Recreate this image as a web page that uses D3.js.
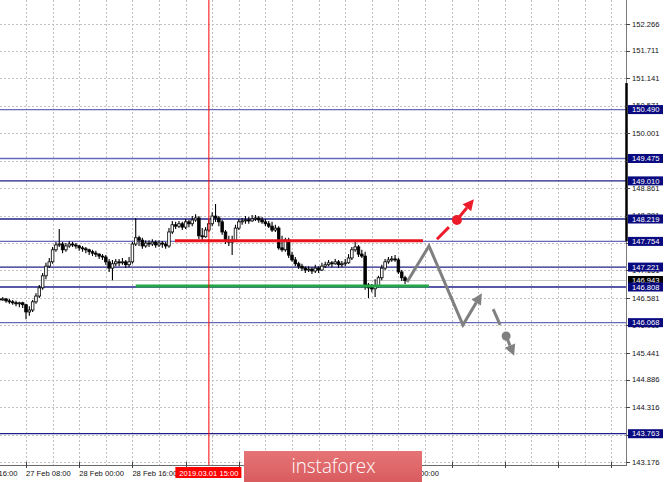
<!DOCTYPE html>
<html><head><meta charset="utf-8">
<script src="https://cdn.jsdelivr.net/npm/d3@7"></script>
<style>html,body{margin:0;padding:0;background:#fff;overflow:hidden}svg{display:block}</style>
</head><body><svg id="c" width="665" height="482"></svg>
<script>
// ---------- DATA ----------
const firstBar = -8; // bar index of first candle (0 = 27 Feb 08:00, H1 bars)
const open = [146.56,146.54,146.56,146.52,146.50,146.48,146.46,146.48,
146.44,146.29,146.33,146.50,146.62,146.79,147.04,147.24,147.33,147.58,
147.68,147.70,147.58,147.66,147.70,147.68,147.66,147.62,147.60,147.58,
147.54,147.51,147.49,147.45,147.43,147.33,147.20,147.29,147.33,147.31,
147.33,147.27,147.33,147.70,147.83,147.78,147.66,147.72,147.70,147.74,
147.68,147.72,147.70,147.66,147.95,148.10,148.07,148.12,148.05,148.16,
148.12,148.20,148.24,147.87,147.85,147.99,148.12,148.28,148.24,148.16,
147.95,147.78,147.74,147.78,148.03,148.16,148.18,148.20,148.18,148.22,
148.24,148.20,148.16,148.12,148.07,147.99,148.03,147.62,147.58,147.78,
147.47,147.37,147.29,147.24,147.20,147.16,147.18,147.14,147.20,147.16,
147.24,147.27,147.31,147.29,147.33,147.27,147.29,147.31,147.41,147.58,
147.64,147.49,147.45,146.85,146.79,146.77,146.83,147.00,147.20,147.33,
147.37,147.39,147.37,147.12,147.00];
const high = [146.60,146.60,146.58,146.56,146.54,146.52,146.50,146.50,
146.46,146.41,146.54,146.68,146.85,147.10,147.31,147.41,147.64,147.74,
148.01,147.74,147.72,147.76,147.74,147.72,147.68,147.66,147.64,147.60,
147.58,147.56,147.51,147.49,147.47,147.39,147.37,147.39,147.39,147.41,
147.37,147.43,147.74,148.24,147.87,147.83,147.78,147.78,147.80,147.78,
147.78,147.76,147.74,148.03,148.18,148.16,148.18,148.16,148.22,148.20,
148.28,148.32,148.28,148.03,148.05,148.20,148.36,148.53,148.28,148.20,
147.99,147.87,147.87,148.10,148.22,148.24,148.28,148.26,148.30,148.30,
148.28,148.26,148.22,148.18,148.16,148.10,148.07,147.87,147.83,147.83,
147.54,147.43,147.33,147.29,147.24,147.24,147.22,147.27,147.24,147.31,
147.33,147.37,147.35,147.39,147.37,147.35,147.39,147.49,147.64,147.74,
147.68,147.58,147.54,146.89,146.87,146.97,147.04,147.27,147.39,147.43,
147.45,147.47,147.41,147.16,147.04];
const low = [146.50,146.52,146.48,146.46,146.44,146.41,146.39,146.37,
146.14,146.21,146.29,146.46,146.58,146.75,146.97,147.20,147.29,147.54,
147.64,147.51,147.54,147.62,147.64,147.60,147.56,147.54,147.51,147.47,
147.45,147.43,147.39,147.37,147.27,147.12,146.95,147.24,147.24,147.27,
147.20,147.22,147.29,147.66,147.66,147.60,147.62,147.64,147.66,147.62,
147.64,147.62,147.60,147.62,147.91,148.01,148.03,147.99,148.01,148.05,
148.07,148.16,147.80,147.78,147.83,147.95,148.07,148.16,148.07,147.89,
147.70,147.66,147.47,147.74,147.99,148.10,148.12,148.12,148.16,148.18,
148.14,148.12,148.07,148.03,147.95,147.95,147.58,147.54,147.54,147.41,
147.33,147.24,147.18,147.14,147.10,147.12,147.08,147.10,147.10,147.14,
147.20,147.24,147.22,147.27,147.20,147.22,147.24,147.29,147.37,147.54,
147.43,147.41,146.75,146.58,146.70,146.60,146.79,146.95,147.16,147.29,
147.33,147.33,147.08,146.93,146.87];
const close = [146.54,146.56,146.52,146.50,146.48,146.46,146.48,146.44,
146.29,146.33,146.50,146.62,146.79,147.04,147.24,147.33,147.58,147.68,
147.70,147.58,147.66,147.70,147.68,147.66,147.62,147.60,147.58,147.54,
147.51,147.49,147.45,147.43,147.33,147.20,147.29,147.33,147.31,147.33,
147.27,147.33,147.70,147.83,147.78,147.66,147.72,147.70,147.74,147.68,
147.72,147.70,147.66,147.95,148.10,148.07,148.12,148.05,148.16,148.12,
148.20,148.24,147.87,147.85,147.99,148.12,148.28,148.24,148.16,147.95,
147.78,147.74,147.78,148.03,148.16,148.18,148.20,148.18,148.22,148.24,
148.20,148.16,148.12,148.07,147.99,148.03,147.62,147.58,147.78,147.47,
147.37,147.29,147.24,147.20,147.16,147.18,147.14,147.20,147.16,147.24,
147.27,147.31,147.29,147.33,147.27,147.29,147.31,147.41,147.58,147.64,
147.49,147.45,146.85,146.79,146.77,146.83,147.00,147.20,147.33,147.37,
147.39,147.37,147.12,147.00,146.94];

const priceTicks = ["152.266","151.711","151.141","150.571","150.001","149.431","148.861","148.291",
  "147.721","147.151","146.581","146.011","145.441","144.886","144.316","143.746","143.176"];
const timeLabels = ["26 Feb 16:00","27 Feb 08:00","28 Feb 00:00","28 Feb 16:00","6 Mar 00:00"];
const timeLabelBars = [-16,0,16,32,112];
const levels = [150.490,149.475,149.010,148.219,147.754,147.221,146.808,146.068,143.763];
const levelText = ["150.490","149.475","149.010","148.219","147.754","147.221","146.808","146.068","143.763"];
const bidPrice = 146.943, bidText = "146.943";
const markerBar = 55, markerText = "2019.03.01 15:00";
const rangeBar = [151.04, 147.754];
const resistanceLine = [[44.8,147.77],[119.4,147.77]];
const supportLine = [[33,146.83],[121.2,146.83]];
const grayPath = [[114.6,146.91],[121.2,147.66],[131.4,146.02],[137.1,146.68]];
const grayDash = [[140.5,146.35],[142.6,146.02]];
const grayDot = [144.4,145.79];
const grayTip = [146.8,145.38];
const redDash = [[123.6,147.80],[127.2,148.05]];
const redDot = [129.6,148.20];
const redTip = [134.7,148.63];

// ---------- DRAW ----------
const W = 665, H = 482, plotR = 626, plotB = 465;
const svg = d3.select("#c");
const x = d3.scaleLinear().domain([0,16]).range([26,79.2]);
const y = d3.scaleLinear().domain([143.176,152.266]).range([462,24]);
const font = "'Liberation Sans', Arial, sans-serif";

svg.append("rect").attr("width",W).attr("height",H).attr("fill","#fff");
const defs = svg.append("defs");
defs.append("clipPath").attr("id","plot")
  .append("rect").attr("x",0).attr("y",0).attr("width",plotR).attr("height",plotB);
const lg = defs.append("linearGradient").attr("id","logo").attr("x1",0).attr("y1",0).attr("x2",0).attr("y2",1);
lg.append("stop").attr("offset","0%").attr("stop-color","#e57476");
lg.append("stop").attr("offset","100%").attr("stop-color","#d95c5f");

const plot = svg.append("g").attr("clip-path","url(#plot)");

// grid
const gridBars = d3.range(-8, 200, 8).filter(b => x(b) < plotR);
plot.selectAll("line.vg").data(gridBars).join("line")
  .attr("x1",d=>Math.round(x(d))+0.5).attr("x2",d=>Math.round(x(d))+0.5)
  .attr("y1",0).attr("y2",plotB)
  .attr("stroke","#c0c0c0").attr("stroke-dasharray","2,2");
plot.selectAll("line.hg").data(priceTicks).join("line")
  .attr("x1",0).attr("x2",plotR)
  .attr("y1",d=>Math.round(y(+d))+0.5).attr("y2",d=>Math.round(y(+d))+0.5)
  .attr("stroke","#c0c0c0").attr("stroke-dasharray","2,2");

// levels
const lightSet = new Set([150.490,149.475,147.754,146.068]);
plot.selectAll("line.lv").data(levels).join("line")
  .attr("x1",0).attr("x2",plotR)
  .attr("y1",d=>y(d)).attr("y2",d=>y(d))
  .attr("stroke",d=>lightSet.has(d)?"#6a6abb":"#20208a").attr("stroke-width",1.3);
plot.append("line").attr("x1",0).attr("x2",plotR).attr("y1",y(bidPrice)).attr("y2",y(bidPrice))
  .attr("stroke","#c8c8c8").attr("stroke-width",1.2);

// candles
const bars = open.map((o,k)=>({i:firstBar+k,o,h:high[k],l:low[k],c:close[k]}));
const cg = plot.append("g");
cg.selectAll("line.w").data(bars).join("line")
  .attr("x1",d=>x(d.i)).attr("x2",d=>x(d.i))
  .attr("y1",d=>y(d.h)).attr("y2",d=>y(d.l))
  .attr("stroke","#000").attr("stroke-width",1.1);
cg.selectAll("rect.b").data(bars).join("rect")
  .attr("x",d=>x(d.i)-1.3).attr("width",2.6)
  .attr("y",d=>y(Math.max(d.o,d.c)))
  .attr("height",d=>Math.max(1,Math.abs(y(d.o)-y(d.c))))
  .attr("fill",d=>d.c>=d.o?"#fff":"#000")
  .attr("stroke","#000").attr("stroke-width",0.8);

// resistance / support
const line = d3.line().x(d=>x(d[0])).y(d=>y(d[1]));
plot.append("path").attr("d",line(resistanceLine)).attr("stroke","#e8141c").attr("stroke-width",3).attr("fill","none");
plot.append("path").attr("d",line(supportLine)).attr("stroke","#23a847").attr("stroke-width",3).attr("fill","none");

plot.append("line").attr("x1",x(markerBar)).attr("x2",x(markerBar)).attr("y1",0).attr("y2",plotB)
  .attr("stroke","#ff0000").attr("stroke-width",1);

// arrows
function arrowHead(g, from, tip, color, len, half){
  const fx=x(from[0]), fy=y(from[1]), tx=x(tip[0]), ty=y(tip[1]);
  const dx=tx-fx, dy=ty-fy, L=Math.hypot(dx,dy), ux=dx/L, uy=dy/L;
  const bx=tx-ux*len, by=ty-uy*len;
  g.append("path").attr("d",`M${tx},${ty}L${bx-uy*half},${by+ux*half}L${bx+uy*half},${by-ux*half}Z`).attr("fill",color);
  return [bx,by];
}
const ag = plot.append("g");
const gray = "#808080", red = "#ec1c2a";
{
  const pts = grayPath.slice(0, grayPath.length-1);
  const last = grayPath[grayPath.length-1], prev = grayPath[grayPath.length-2];
  const [bx,by] = arrowHead(ag, prev, last, gray, 11, 5.5);
  ag.append("path").attr("d", line(pts)+`L${bx},${by}`).attr("stroke",gray).attr("stroke-width",3)
    .attr("fill","none").attr("stroke-linejoin","miter");
}
ag.append("path").attr("d",line(grayDash)).attr("stroke",gray).attr("stroke-width",3).attr("fill","none");
ag.append("circle").attr("cx",x(grayDot[0])).attr("cy",y(grayDot[1])).attr("r",4.5).attr("fill",gray);
{
  const [bx,by] = arrowHead(ag, grayDot, grayTip, gray, 11, 5.5);
  ag.append("line").attr("x1",x(grayDot[0])).attr("y1",y(grayDot[1])).attr("x2",bx).attr("y2",by)
    .attr("stroke",gray).attr("stroke-width",3);
}
ag.append("path").attr("d",line(redDash)).attr("stroke",red).attr("stroke-width",3).attr("fill","none");
ag.append("circle").attr("cx",x(redDot[0])).attr("cy",y(redDot[1])).attr("r",5).attr("fill",red);
{
  const [bx,by] = arrowHead(ag, redDot, redTip, red, 11, 5.5);
  ag.append("line").attr("x1",x(redDot[0])).attr("y1",y(redDot[1])).attr("x2",bx).attr("y2",by)
    .attr("stroke",red).attr("stroke-width",3);
}

// axes lines
svg.append("line").attr("x1",plotR+0.5).attr("x2",plotR+0.5).attr("y1",0).attr("y2",plotB)
  .attr("stroke","#7a7a7a").attr("stroke-width",1);
svg.append("line").attr("x1",plotR+0.5).attr("x2",plotR+0.5).attr("y1",y(rangeBar[0])).attr("y2",y(rangeBar[1]))
  .attr("stroke","#000").attr("stroke-width",2.5);
svg.append("line").attr("x1",0).attr("x2",plotR+1).attr("y1",plotB+0.5).attr("y2",plotB+0.5)
  .attr("stroke","#6a6a6a").attr("stroke-width",1);

// price ticks and labels (labels fully hidden behind a level box are not drawn)
svg.selectAll("line.pt").data(priceTicks).join("line")
  .attr("x1",plotR).attr("x2",plotR+4)
  .attr("y1",d=>Math.round(y(+d))+0.5).attr("y2",d=>Math.round(y(+d))+0.5)
  .attr("stroke","#444");
const shownTicks = priceTicks.filter(t => levels.every(l => Math.abs(y(+t)-y(l)) > 2.5));
svg.selectAll("text.pl").data(shownTicks).join("text")
  .attr("x",632).attr("y",d=>y(+d)+2.7)
  .attr("font-family",font).attr("font-size","7.6px").attr("fill","#111").text(d=>d);

svg.append("rect").attr("x",628).attr("y",y(bidPrice)-4.5).attr("width",35).attr("height",9).attr("fill","#000");
svg.append("text").attr("x",632).attr("y",y(bidPrice)+2.7).attr("font-family",font).attr("font-size","7.6px")
  .attr("fill","#fff").text(bidText);
const lvl = svg.selectAll("g.ll").data(levels).join("g");
lvl.append("rect").attr("x",628).attr("y",d=>y(d)-4.5).attr("width",35).attr("height",9).attr("fill","#0a0a80");
lvl.append("text").attr("x",632).attr("y",d=>y(d)+2.7).attr("font-family",font).attr("font-size","7.6px")
  .attr("fill","#fff").text((d,k)=>levelText[k]);

// time axis ticks & labels
const tickBars = d3.range(-16, 200, 16).filter(b => x(b) < plotR);
svg.selectAll("line.tt").data(tickBars).join("line")
  .attr("x1",d=>Math.round(x(d))+0.5).attr("x2",d=>Math.round(x(d))+0.5)
  .attr("y1",plotB-3).attr("y2",plotB+3).attr("stroke","#444");
svg.selectAll("text.tl").data(timeLabels).join("text")
  .attr("x",(d,k)=>x(timeLabelBars[k])).attr("y",475.5)
  .attr("font-family",font).attr("font-size","7.6px").attr("fill","#111").text(d=>d);

svg.append("rect").attr("x",x(markerBar)-33.5).attr("y",467).attr("width",66).attr("height",11).attr("fill","#ff0000");
svg.append("text").attr("x",x(markerBar)).attr("y",475.5).attr("text-anchor","middle")
  .attr("font-family",font).attr("font-size","7.6px").attr("fill","#fff").text(markerText);

// watermark logo
svg.append("rect").attr("x",244).attr("y",451).attr("width",178).attr("height",31).attr("fill","url(#logo)");
svg.append("text").attr("x",333.5).attr("y",473).attr("text-anchor","middle")
  .attr("font-family","'Open Sans', 'Noto Sans', sans-serif").attr("font-weight",300)
  .attr("font-size","21px").attr("fill","#fff")
  .attr("textLength",84).attr("lengthAdjust","spacingAndGlyphs").text("instaforex");
</script></body></html>
